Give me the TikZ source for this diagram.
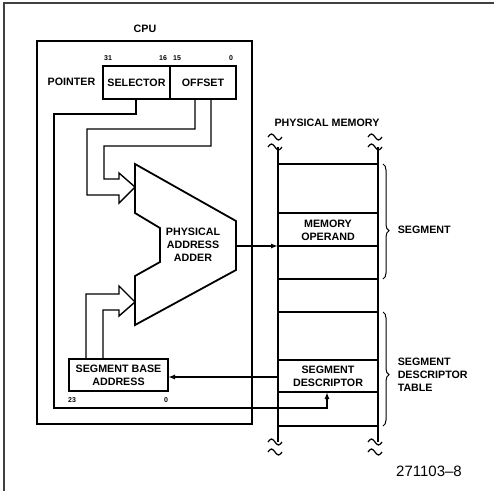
\documentclass[tikz,border=0pt]{standalone}
\usepackage{fontspec}
\setmainfont{Liberation Sans}
\usetikzlibrary{arrows.meta,decorations.pathreplacing}
\begin{document}
\begin{tikzpicture}[x=1pt,y=-1pt,
  line width=1.5pt, line join=miter,
  lbl/.style={font=\fontsize{10.7}{13}\selectfont\bfseries, align=center, inner sep=0pt},
  num/.style={font=\fontsize{7}{8}\selectfont\bfseries, inner sep=0pt},
  box/.style={draw, line width=1.8pt, inner sep=0pt, outer sep=0pt, font=\fontsize{10.7}{13}\selectfont\bfseries, align=center},
  arr/.style={-{Latex[length=7pt,width=5pt]}},
  wire/.style={line width=1.4pt},
  brc/.style={decorate, line width=1pt},
  tilde/.pic={\draw[line width=1.2pt] (-7,0) sin (-3.5,-3) cos (0,0) sin (3.5,3) cos (7,0);}
]
\useasboundingbox (0,0) rectangle (494,491);
% frame
\draw[line width=2pt, black!75] (4,491) -- (4,3) -- (494,3);

% CPU
\node[lbl] (cpulbl) at (145,29) {CPU};
\node[box, minimum width=215pt, minimum height=383pt] (cpu) at (144.5,232.5) {};

% pointer register
\node[box, minimum width=67pt, minimum height=33pt] (sel) at (136.5,82.5) {SELECTOR};
\node[box, minimum width=66pt, minimum height=33pt] (off) at (203,82.5) {OFFSET};
\node[lbl, anchor=east] (ptr) at (96,82) {POINTER};
\node[num] (n31) at (108,58) {31};
\node[num] (n16) at (163,58) {16};
\node[num] (n15) at (177,58) {15};
\node[num] (n0a) at (231,58) {0};

% adder
\draw[line width=1.8pt] (135,164) -- (236,221) -- (236,270) -- (135,325) -- (135,276)
  -- (160,262) -- (160,228) -- (135,213) -- cycle;
\node[lbl] (adder) at (193,245) {PHYSICAL\\ADDRESS\\ADDER};

% segment base address
\node[box, minimum width=99pt, minimum height=32pt] (base) at (118.5,375) {SEGMENT BASE\\ADDRESS};
\node[num] (n23) at (72,400) {23};
\node[num] (n0b) at (166,400) {0};

% fat arrows from offset
\coordinate (o1) at (195,99);
\coordinate (o2) at (211,99);
\coordinate (tip1) at (135,187);
\draw[wire] (o1) -- (195,129) -- (87,129) -- (87,195) -- (119,195) -- (119,203) -- (tip1);
\draw[wire] (o2) -- (211,146) -- (104,146) -- (104,179) -- (119,179) -- (119,173) -- (tip1);

% fat arrow from base
\coordinate (b1) at (86,359);
\coordinate (b2) at (103,359);
\coordinate (tip2) at (135,302);
\draw[wire] (b1) -- (86,294) -- (119,294) -- (119,286) -- (tip2);
\draw[wire] (b2) -- (103,310) -- (119,310) -- (119,316) -- (tip2);

% physical memory
\node[lbl] (pmlbl) at (327,123) {PHYSICAL MEMORY};
\draw[line width=1.8pt] (278,147) -- (278,442);
\draw[line width=1.8pt] (378,147) -- (378,442);
\foreach \y in {164,213,246,279,312,360,392,426}
  \draw[line width=1.6pt] (278,\y) -- (378,\y);
\pic at (275,137) {tilde};
\pic at (275,147) {tilde};
\pic at (375,137) {tilde};
\pic at (375,147) {tilde};
\pic at (275,442) {tilde};
\pic at (275,452) {tilde};
\pic at (375,442) {tilde};
\pic at (375,452) {tilde};

\node[lbl] (memop) at (328,230) {MEMORY\\OPERAND};
\node[lbl] (segdesc) at (328,376) {SEGMENT\\DESCRIPTOR};

% connectors
\coordinate (addout) at (236,246);
\coordinate (memin) at (278,246);
\draw[wire, arr] (addout) -- (memin);
\coordinate (descout) at (278,377);
\draw[wire, arr] (descout) -- (base.east |- descout);
\coordinate (s1) at (136,99);
\coordinate (descbot) at (327,392);
\draw[wire, arr] (s1) -- (136,114) -- (54,114) -- (54,408) -- (327,408) -- (descbot);

% braces
\draw[brc, decoration={brace, amplitude=6pt, aspect=0.58}] (383,164) -- (383,279);
\node[lbl, anchor=west] (seglbl) at (397,230) {SEGMENT};
\draw[brc, decoration={brace, amplitude=6pt, aspect=0.55}] (383,312) -- (383,426);
\node[lbl, anchor=west, align=left] (sdtlbl) at (397,375) {SEGMENT\\DESCRIPTOR\\TABLE};

% figure number
\node[font=\fontsize{15}{16}\selectfont, inner sep=0pt] (fig) at (429,471) {271103–8};
\end{tikzpicture}
\end{document}
